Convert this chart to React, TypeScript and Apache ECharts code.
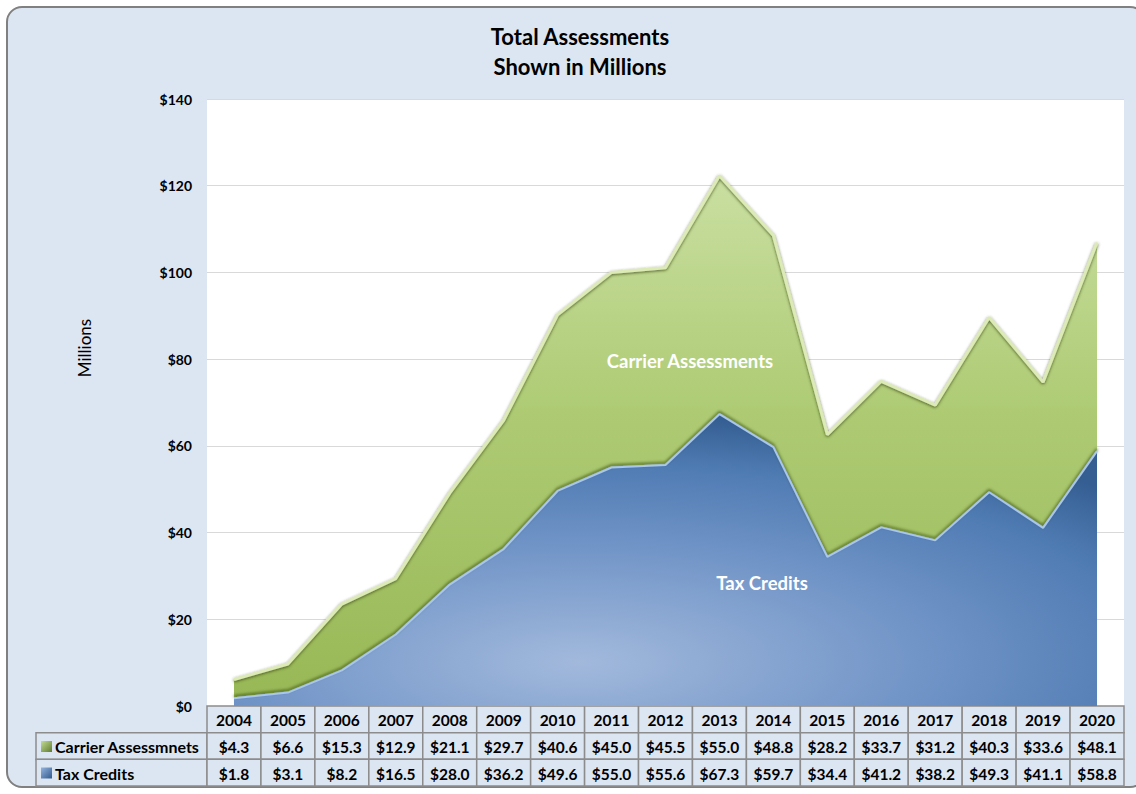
import React, { useEffect, useRef } from "react";
import * as echarts from "echarts";

const years = ["2004","2005","2006","2007","2008","2009","2010","2011","2012","2013","2014","2015","2016","2017","2018","2019","2020"];
const carrierAssessments = [4.3, 6.6, 15.3, 12.9, 21.1, 29.7, 40.6, 45.0, 45.5, 55.0, 48.8, 28.2, 33.7, 31.2, 40.3, 33.6, 48.1];
const taxCredits = [1.8, 3.1, 8.2, 16.5, 28.0, 36.2, 49.6, 55.0, 55.6, 67.3, 59.7, 34.4, 41.2, 38.2, 49.3, 41.1, 58.8];
const rowKeys = ["tax", "carrier", "header"];
const rowLabels = ["Carrier Assessmnets", "Tax Credits"];
const yMin = 0;
const yMax = 140;
const yStep = 20;

const FONT = "Lato, 'Open Sans', sans-serif";

export default function App() {
  const ref = useRef<HTMLDivElement>(null);

  useEffect(() => {
    document.body.style.margin = "0";
    const chart = echarts.init(ref.current!, null, { renderer: "svg" });

    const cellData: number[][] = [];
    const cellTexts: string[] = [];
    years.forEach((y, i) => {
      cellData.push([i, 2]);
      cellTexts.push(y);
      cellData.push([i, 1]);
      cellTexts.push("$" + carrierAssessments[i].toFixed(1));
      cellData.push([i, 0]);
      cellTexts.push("$" + taxCredits[i].toFixed(1));
    });

    const left = 207;
    const width = 917;

    chart.setOption({
      animation: false,
      backgroundColor: "transparent",
      title: {
        text: "Total Assessments\nShown in Millions",
        left: 575,
        textAlign: "center",
        top: 16,
        textStyle: { fontFamily: FONT, fontSize: 22, fontWeight: "bold", color: "#000", lineHeight: 30 },
      },
      grid: [
        { left, top: 99, width, height: 607, show: true, backgroundColor: "#ffffff", borderWidth: 0 },
        { left, top: 706, width, height: 80, show: false },
      ],
      xAxis: [
        { type: "category", gridIndex: 0, data: years, boundaryGap: true, axisLine: { show: false }, axisTick: { show: false }, axisLabel: { show: false } },
        { type: "category", gridIndex: 1, data: years, boundaryGap: true, axisLine: { show: false }, axisTick: { show: false }, axisLabel: { show: false } },
      ],
      yAxis: [
        {
          type: "value", gridIndex: 0, min: yMin, max: yMax, interval: yStep,
          axisLine: { show: false }, axisTick: { show: false },
          axisLabel: { formatter: (v: number) => "$" + v, fontFamily: FONT, fontSize: 14, fontWeight: "bold", color: "#000", margin: 15 },
          splitLine: { lineStyle: { color: "#d9d9d9", width: 1 } },
        },
        { type: "category", gridIndex: 1, data: rowKeys, axisLine: { show: false }, axisTick: { show: false }, axisLabel: { show: false } },
      ],
      series: [
        {
          name: "Tax Credits",
          type: "line",
          stack: "total",
          data: taxCredits,
          symbol: "none",
          xAxisIndex: 0, yAxisIndex: 0,
          lineStyle: { color: "#a8c6ee", width: 2, shadowColor: "rgba(50,70,15,0.85)", shadowBlur: 3, shadowOffsetY: -2 },
          areaStyle: {
            opacity: 1,
            color: new echarts.graphic.RadialGradient(0.4, 0.85, 0.85, [
              { offset: 0, color: "#a2b9dc" },
              { offset: 0.45, color: "#7396c8" },
              { offset: 0.8, color: "#4f7bb3" },
              { offset: 1, color: "#355f93" },
            ]),
          },
          z: 3,
        },
        {
          name: "Carrier Assessments",
          type: "line",
          stack: "total",
          data: carrierAssessments,
          symbol: "none",
          xAxisIndex: 0, yAxisIndex: 0,
          lineStyle: { color: "#dcebb6", width: 3, shadowColor: "rgba(45,60,15,0.8)", shadowBlur: 3, shadowOffsetY: 1 },
          areaStyle: {
            opacity: 1,
            color: new echarts.graphic.LinearGradient(0, 0, 0, 1, [
              { offset: 0, color: "#c9dfa1" },
              { offset: 0.45, color: "#aecb74" },
              { offset: 1, color: "#98b856" },
            ]),
          },
          z: 2,
        },
        {
          name: "table",
          type: "custom",
          xAxisIndex: 1, yAxisIndex: 1,
          data: cellData,
          encode: { x: 0, y: 1 },
          renderItem: (params: any, api: any) => {
            const c = api.coord([api.value(0), api.value(1)]);
            const s = api.size([1, 1]);
            return {
              type: "group",
              children: [
                {
                  type: "rect",
                  shape: { x: c[0] - s[0] / 2, y: c[1] - s[1] / 2, width: s[0], height: s[1] },
                  style: { fill: "#dce6f2", stroke: "#8c8c8c", lineWidth: 1.5 },
                },
                {
                  type: "text",
                  style: {
                    text: cellTexts[params.dataIndex],
                    x: c[0], y: c[1] + 1,
                    align: "center", verticalAlign: "middle",
                    font: `bold 15.5px ${FONT}`, fill: "#000",
                  },
                },
              ],
            };
          },
        },
      ],
      graphic: [
        {
          type: "text", x: 84, y: 348, rotation: Math.PI / 2,
          style: { text: "Millions", font: `17px ${FONT}`, fill: "#000", align: "center", verticalAlign: "middle" },
        },
        {
          type: "text", x: 690, y: 361, z: 100,
          style: { text: "Carrier Assessments", font: `bold 18.5px ${FONT}`, fill: "#ffffff", align: "center", verticalAlign: "middle" },
        },
        {
          type: "text", x: 762, y: 583, z: 100,
          style: { text: "Tax Credits", font: `bold 18.5px ${FONT}`, fill: "#ffffff", align: "center", verticalAlign: "middle" },
        },
        {
          type: "rect", shape: { x: 36, y: 732.7, width: 171, height: 26.7 },
          style: { fill: "#dce6f2", stroke: "#8c8c8c", lineWidth: 1.5 },
        },
        {
          type: "rect", shape: { x: 36, y: 759.3, width: 171, height: 26.7 },
          style: { fill: "#dce6f2", stroke: "#8c8c8c", lineWidth: 1.5 },
        },
        {
          type: "rect", shape: { x: 41, y: 741, width: 11, height: 11 },
          style: { fill: new echarts.graphic.LinearGradient(0, 0, 1, 1, [{ offset: 0, color: "#c4dc94" }, { offset: 1, color: "#5f7a2e" }]) },
        },
        {
          type: "rect", shape: { x: 41, y: 767.5, width: 11, height: 11 },
          style: { fill: new echarts.graphic.LinearGradient(0, 0, 1, 1, [{ offset: 0, color: "#95b3de" }, { offset: 1, color: "#2f5a8c" }]) },
        },
        {
          type: "text", x: 55, y: 746.5,
          style: { text: rowLabels[0], font: `bold 16px ${FONT}`, fill: "#000", align: "left", verticalAlign: "middle" },
        },
        {
          type: "text", x: 55, y: 773,
          style: { text: rowLabels[1], font: `bold 16px ${FONT}`, fill: "#000", align: "left", verticalAlign: "middle" },
        },
      ],
    });

    return () => chart.dispose();
  }, []);

  return (
    <div style={{ position: "relative", width: 1136, height: 794, background: "#ffffff", overflow: "hidden" }}>
      <div
        style={{
          position: "absolute", left: 6, top: 6, width: 1140, height: 782,
          border: "2px solid #808080", borderRadius: 16, background: "#dce6f2", boxSizing: "border-box",
        }}
      />
      <div ref={ref} style={{ position: "absolute", left: 0, top: 0, width: 1136, height: 794 }} />
    </div>
  );
}
